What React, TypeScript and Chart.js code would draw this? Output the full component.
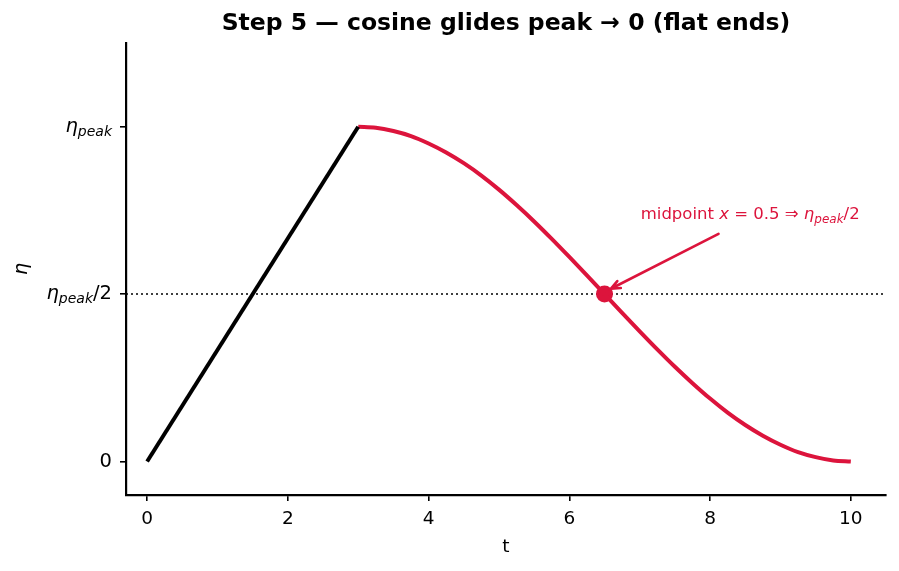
import React, { useEffect, useRef } from "react";
import { Chart, registerables } from "chart.js";

Chart.register(...registerables);

// ---- data ----
const rampT = [0, 3];
const rampEta = [0, 1];
const cosT = [3, 3.25, 3.5, 3.75, 4, 4.25, 4.5, 4.75, 5, 5.25, 5.5, 5.75, 6, 6.25, 6.5, 6.75, 7, 7.25, 7.5, 7.75, 8, 8.25, 8.5, 8.75, 9, 9.25, 9.5, 9.75, 10];
const cosEta = [1, 0.997, 0.987, 0.972, 0.95, 0.923, 0.891, 0.854, 0.812, 0.766, 0.717, 0.665, 0.611, 0.556, 0.5, 0.444, 0.389, 0.335, 0.283, 0.234, 0.188, 0.146, 0.109, 0.077, 0.05, 0.028, 0.013, 0.003, 0];
const midT = [6.5];
const midEta = [0.5];
const halfLevel = 0.5;
const xTickValues = [0, 2, 4, 6, 8, 10];
const yTickValues = [0, 0.5, 1];
type Part = { t: string; s: "n" | "i" | "sub" };
const yTickLabels: Part[][] = [
  [{ t: "0", s: "n" }],
  [{ t: "η", s: "i" }, { t: "peak", s: "sub" }, { t: "/2", s: "n" }],
  [{ t: "η", s: "i" }, { t: "peak", s: "sub" }],
];
const annotationParts: Part[] = [
  { t: "midpoint ", s: "n" },
  { t: "x", s: "i" },
  { t: " = 0.5 ⇒ ", s: "n" },
  { t: "η", s: "i" },
  { t: "peak", s: "sub" },
  { t: "/2", s: "n" },
];
const annotTextAt = { t: 8.57, eta: 0.737 };
const arrowTail = { t: 8.12, eta: 0.68 };
const arrowHead = { t: 6.59, eta: 0.516 };
const titleText = "Step 5 — cosine glides peak → 0 (flat ends)";
const xTitle = "t";
const yTitle = "η";

const RED = "#DC143C";
const FONT = "'DejaVu Sans', sans-serif";

function partFont(p: Part, size: number) {
  if (p.s === "n") return `${size}px ${FONT}`;
  if (p.s === "i") return `italic ${size}px ${FONT}`;
  return `italic ${Math.round(size * 0.74)}px ${FONT}`;
}

function drawRich(ctx: CanvasRenderingContext2D, parts: Part[], x: number, y: number, align: "left" | "right" | "center", size: number, color: string) {
  ctx.save();
  ctx.textBaseline = "middle";
  ctx.textAlign = "left";
  ctx.fillStyle = color;
  const widths = parts.map((p) => {
    ctx.font = partFont(p, size);
    return ctx.measureText(p.t).width;
  });
  const total = widths.reduce((a, b) => a + b, 0);
  let cx = align === "left" ? x : align === "right" ? x - total : x - total / 2;
  parts.forEach((p, i) => {
    ctx.font = partFont(p, size);
    const dy = p.s === "sub" ? size * 0.28 : 0;
    ctx.fillText(p.t, cx, y + dy);
    cx += widths[i];
  });
  ctx.restore();
}

const overlay = {
  id: "overlay",
  beforeDatasetsDraw(chart: any) {
    const { ctx, chartArea, scales } = chart;
    const y = scales.y.getPixelForValue(halfLevel);
    ctx.save();
    ctx.strokeStyle = "#000";
    ctx.lineWidth = 1.5;
    ctx.setLineDash([2, 3]);
    ctx.beginPath();
    ctx.moveTo(chartArea.left, y);
    ctx.lineTo(chartArea.right, y);
    ctx.stroke();
    ctx.restore();
  },
  afterDraw(chart: any) {
    const { ctx, chartArea, scales } = chart;
    const xs = scales.x;
    const ys = scales.y;
    // title
    ctx.save();
    ctx.fillStyle = "#000";
    ctx.font = `bold 23.5px ${FONT}`;
    ctx.textAlign = "center";
    ctx.textBaseline = "middle";
    ctx.fillText(titleText, (chartArea.left + chartArea.right) / 2, 24);
    // x title
    ctx.font = `18.5px ${FONT}`;
    ctx.fillText(xTitle, (chartArea.left + chartArea.right) / 2, 547);
    // y title
    ctx.translate(22, (chartArea.top + chartArea.bottom) / 2);
    ctx.rotate(-Math.PI / 2);
    ctx.font = `italic 19px ${FONT}`;
    ctx.fillText(yTitle, 0, 0);
    ctx.restore();
    // y tick labels
    yTickValues.forEach((v, i) => {
      drawRich(ctx, yTickLabels[i], chartArea.left - 14, ys.getPixelForValue(v), "right", 19.5, "#000");
    });
    // annotation arrow
    const x0 = xs.getPixelForValue(arrowTail.t);
    const y0 = ys.getPixelForValue(arrowTail.eta);
    const x1 = xs.getPixelForValue(arrowHead.t);
    const y1 = ys.getPixelForValue(arrowHead.eta);
    ctx.save();
    ctx.strokeStyle = RED;
    ctx.lineWidth = 2.6;
    ctx.lineCap = "round";
    ctx.beginPath();
    ctx.moveTo(x0, y0);
    ctx.lineTo(x1, y1);
    const ang = Math.atan2(y1 - y0, x1 - x0);
    const hl = 10;
    const ha = 0.4;
    ctx.moveTo(x1 - hl * Math.cos(ang - ha), y1 - hl * Math.sin(ang - ha));
    ctx.lineTo(x1, y1);
    ctx.lineTo(x1 - hl * Math.cos(ang + ha), y1 - hl * Math.sin(ang + ha));
    ctx.stroke();
    ctx.restore();
    drawRich(ctx, annotationParts, xs.getPixelForValue(annotTextAt.t), ys.getPixelForValue(annotTextAt.eta), "center", 16.5, RED);
  },
};

export default function App() {
  const ref = useRef<HTMLCanvasElement | null>(null);
  useEffect(() => {
    if (!ref.current) return;
    const chart = new Chart(ref.current, {
      type: "scatter",
      data: {
        datasets: [
          {
            data: rampT.map((t, i) => ({ x: t, y: rampEta[i] })),
            showLine: true,
            borderColor: "#000",
            borderWidth: 4,
            pointRadius: 0,
          },
          {
            data: cosT.map((t, i) => ({ x: t, y: cosEta[i] })),
            showLine: true,
            borderColor: RED,
            borderWidth: 4,
            pointRadius: 0,
            cubicInterpolationMode: "monotone",
          },
          {
            data: midT.map((t, i) => ({ x: t, y: midEta[i] })),
            showLine: false,
            pointRadius: 8.5,
            backgroundColor: RED,
            borderColor: RED,
            borderWidth: 0,
          },
        ],
      },
      options: {
        responsive: false,
        animation: false,
        devicePixelRatio: 1,
        layout: { padding: { top: 43, right: 13, left: 0, bottom: 0 } },
        plugins: { legend: { display: false }, tooltip: { enabled: false }, title: { display: false } },
        scales: {
          x: {
            type: "linear",
            min: -0.3,
            max: 10.5,
            afterBuildTicks: (s: any) => { s.ticks = xTickValues.map((v) => ({ value: v })); },
            afterFit: (s: any) => { s.height = 76; },
            ticks: { color: "#000", font: { family: FONT, size: 18.5 }, padding: 7, maxRotation: 0, callback: (v: any) => String(v) },
            grid: { drawOnChartArea: false, drawTicks: true, tickLength: 6, color: "#000", lineWidth: 1.6 },
            border: { display: true, color: "#000", width: 2.2 },
          },
          y: {
            type: "linear",
            min: -0.1,
            max: 1.25,
            afterBuildTicks: (s: any) => { s.ticks = yTickValues.map((v) => ({ value: v })); },
            afterFit: (s: any) => { s.width = 126; },
            ticks: { callback: () => "", padding: 0 },
            grid: { drawOnChartArea: false, drawTicks: true, tickLength: 6, color: "#000", lineWidth: 1.6 },
            border: { display: true, color: "#000", width: 2.2 },
          },
        },
      },
      plugins: [overlay],
    } as any);
    return () => chart.destroy();
  }, []);
  return (
    <div style={{ position: "absolute", left: 0, top: 0, width: 899, height: 571, background: "#fff" }}>
      <canvas ref={ref} width={899} height={571} />
    </div>
  );
}
